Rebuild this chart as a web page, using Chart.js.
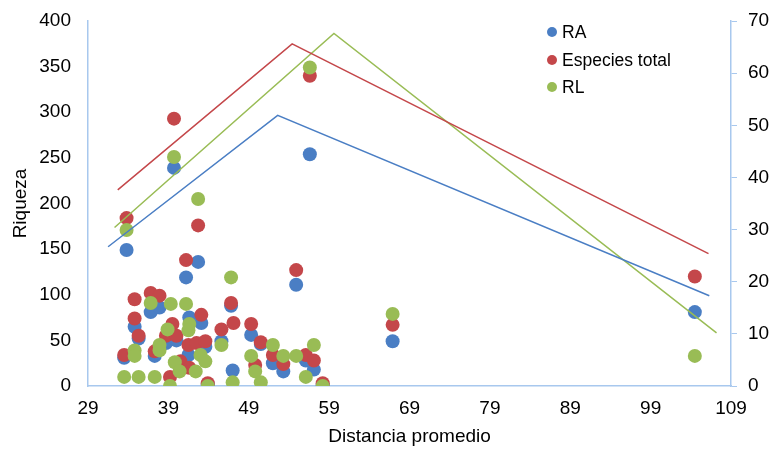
<!DOCTYPE html>
<html>
<head>
<meta charset="utf-8">
<script src="https://cdn.jsdelivr.net/npm/chart.js@4"></script>
<style>
  body { margin: 0; background: #fff; }
  #wrap { position: relative; width: 774px; height: 453px; }
  #legend { position: absolute; left: 547px; top: 20px; font-family: "Liberation Sans", Arial, sans-serif; font-size: 17.5px; color: #000; }
  #legend div { height: 27.5px; line-height: 24px; white-space: nowrap; }
  #legend span.dot { display: inline-block; width: 10px; height: 10px; border-radius: 50%; margin-right: 5px; vertical-align: 1px; }
</style>
</head>
<body>
<div id="wrap">
  <canvas id="chart" width="774" height="453"></canvas>
  <div id="legend"></div>
</div>
<script>
// Riqueza vs distancia promedio

// RA (azul)
const raX = [33.5, 33.8, 34.8, 35.3, 36.8, 37.3, 37.9, 38.7, 39.7, 40.0, 41.2, 41.5, 41.6, 42.7, 43.1, 43.6, 43.9, 45.6, 46.8, 47.0, 49.3, 50.5, 52.0, 53.3, 54.9, 56.1, 56.6, 57.1, 58.2, 66.9, 104.5];
const raY = [31, 149, 65, 52, 81, 33, 86, 47, 239, 50, 119, 34, 75, 136, 69, 43, 2, 49, 88, 17, 56, 46, 25, 16, 111, 28, 254, 18, 1, 49, 81];

// Especies total (rojo)
const totalX = [33.5, 33.8, 34.8, 34.8, 35.3, 36.8, 37.9, 37.3, 38.7, 39.2, 39.5, 39.7, 40.0, 40.5, 41.2, 41.5, 41.6, 42.5, 42.7, 43.1, 43.6, 43.9, 45.6, 46.8, 47.1, 49.3, 49.8, 50.5, 52.0, 53.3, 54.9, 56.1, 56.6, 57.1, 58.2, 66.9, 104.5];
const totalY = [34, 184, 95, 74, 55, 102, 99, 38, 55, 10, 68, 293, 55, 27, 138, 45, 20, 47, 176, 78, 49, 3, 62, 91, 69, 68, 23, 48, 34, 24, 127, 34, 340, 28, 3, 67, 120];

// RL (verde)
const rlX = [33.5, 33.8, 34.8, 34.8, 35.3, 36.8, 37.3, 37.9, 37.9, 38.9, 39.2, 39.3, 39.7, 39.8, 40.4, 41.2, 41.6, 41.5, 42.4, 42.7, 43.0, 43.6, 43.9, 45.6, 46.8, 47.0, 49.3, 49.8, 50.5, 52.0, 53.3, 54.9, 56.1, 56.6, 57.1, 58.2, 66.9, 104.5];
const rlY = [10, 171, 39, 33, 10, 91, 10, 45, 39, 62, 0, 90, 251, 26, 16, 90, 68, 61, 16, 205, 34, 27, 0, 45, 119, 4, 33, 16, 4, 45, 33, 33, 10, 349, 45, 0, 79, 33];

// lineas de ajuste (eje derecho)
const fitX = { ra: [31.5, 52.6, 106.3], total: [32.7, 54.4, 106.2], rl: [32.3, 59.6, 107.2] };
const raFit = [26.7, 51.9, 17.3];
const totalFit = [37.6, 65.6, 25.4];
const rlFit = [30.4, 67.6, 10.2];

const xTicks = [29, 39, 49, 59, 69, 79, 89, 99, 109];

const azul = '#4A7EC4';
const rojo = '#C4474A';
const verde = '#99BC55';
const ejeColor = '#A8C8EE';
const fuente = '"Liberation Sans", Arial, sans-serif';

function pts(xs, ys) {
    return xs.map((x, i) => ({ x: x, y: ys[i] }));
}

function puntos(label, xs, ys, color, order) {
    return {
        label: label,
        data: pts(xs, ys),
        backgroundColor: color,
        borderColor: color,
        pointRadius: 7,
        pointBorderWidth: 0,
        yAxisID: 'y',
        order: order
    };
}

function linea(xs, ys, color) {
    return {
        data: pts(xs, ys),
        showLine: true,
        borderColor: color,
        borderWidth: 1.5,
        pointRadius: 0,
        fill: false,
        yAxisID: 'y2',
        order: 0
    };
}

// ancho fijo de los ejes verticales, sin relleno extra arriba/abajo
function fijarAncho(w) {
    return function(scale) {
        scale.width = w;
        scale.paddingTop = 0;
        scale.paddingBottom = 0;
    };
}

const ctx = document.getElementById('chart').getContext('2d');
new Chart(ctx, {
    type: 'scatter',
    data: {
        datasets: [
            puntos('RA', raX, raY, azul, 3),
            puntos('Especies total', totalX, totalY, rojo, 2),
            puntos('RL', rlX, rlY, verde, 1),
            linea(fitX.ra, raFit, azul),
            linea(fitX.total, totalFit, rojo),
            linea(fitX.rl, rlFit, verde)
        ]
    },
    options: {
        responsive: false,
        animation: false,
        layout: { padding: { top: 21, left: 0, right: 0, bottom: 0 } },
        plugins: {
            legend: { display: false },
            tooltip: { enabled: false }
        },
        scales: {
            x: {
                type: 'linear',
                min: 29,
                max: 109,
                afterBuildTicks: function(scale) {
                    scale.ticks = xTicks.map(v => ({ value: v }));
                },
                afterFit: function(scale) {
                    scale.height = 67;
                    scale.paddingLeft = 0;
                    scale.paddingRight = 0;
                },
                grid: { display: true, drawOnChartArea: false, drawTicks: false },
                border: { color: ejeColor, width: 1.5 },
                ticks: { color: '#000', font: { family: fuente, size: 19 }, padding: 11 },
                title: {
                    display: true,
                    text: 'Distancia promedio',
                    color: '#000',
                    font: { family: fuente, size: 19 },
                    padding: { top: 0, bottom: 5 }
                }
            },
            y: {
                position: 'left',
                min: 0,
                max: 400,
                afterFit: fijarAncho(88),
                grid: { display: true, drawOnChartArea: false, drawTicks: false },
                border: { color: ejeColor, width: 1.5 },
                ticks: { stepSize: 50, color: '#000', font: { family: fuente, size: 19 }, padding: 17 },
                title: {
                    display: true,
                    text: 'Riqueza',
                    color: '#000',
                    font: { family: fuente, size: 19 },
                    padding: { top: 9, bottom: 0 }
                }
            },
            y2: {
                position: 'right',
                min: 0,
                max: 70,
                afterFit: fijarAncho(43),
                grid: { display: true, drawOnChartArea: false, drawTicks: true, tickLength: 6, color: ejeColor },
                border: { color: ejeColor, width: 1.5 },
                ticks: { stepSize: 10, color: '#000', font: { family: fuente, size: 19 }, padding: 11 }
            }
        }
    }
});

// leyenda
const leyenda = document.getElementById('legend');
[['RA', azul], ['Especies total', rojo], ['RL', verde]].forEach(function(item) {
    const row = document.createElement('div');
    const dot = document.createElement('span');
    dot.className = 'dot';
    dot.style.background = item[1];
    row.appendChild(dot);
    row.appendChild(document.createTextNode(item[0]));
    leyenda.appendChild(row);
});
</script>
</body>
</html>
